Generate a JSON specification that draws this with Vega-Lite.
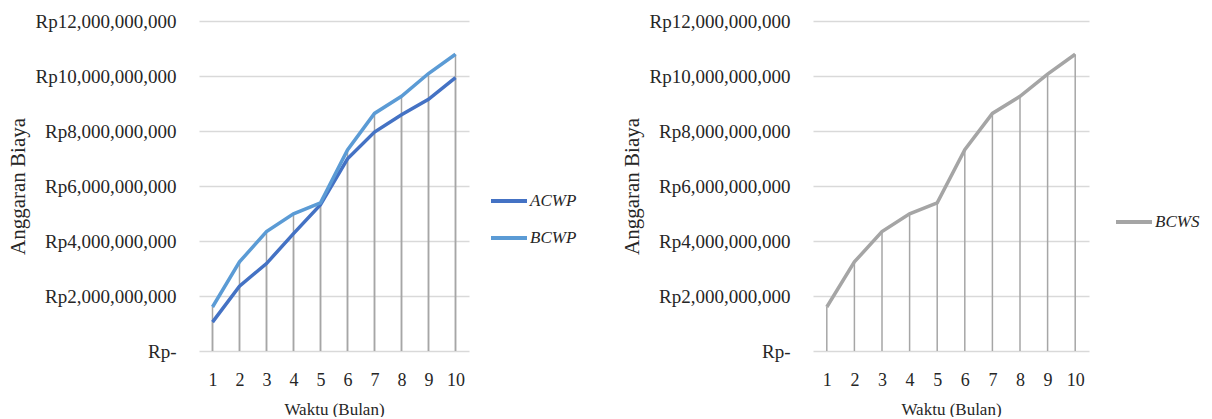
{
  "$schema": "https://vega.github.io/schema/vega-lite/v6.json",
  "padding": {"top": 12, "left": 7, "right": 0, "bottom": 0},
  "background": "white",
  "spacing": 44,
  "config": {
    "view": {"stroke": null},
    "font": "Liberation Serif",
    "axis": {
      "labelFont": "Liberation Serif",
      "titleFont": "Liberation Serif",
      "labelColor": "#262626",
      "titleColor": "#262626",
      "titleFontWeight": "normal",
      "domain": false,
      "ticks": false,
      "tickSize": 0
    },
    "legend": {
      "labelFont": "Liberation Serif",
      "labelFontStyle": "italic",
      "labelFontSize": 17,
      "labelColor": "#262626",
      "symbolType": "stroke",
      "symbolSize": 1296,
      "symbolStrokeWidth": 4,
      "rowPadding": 9,
      "labelOffset": 1
    }
  },
  "datasets": {
    "d": [
      {"bulan": 1, "seri": "ACWP", "nilai": 1050000000},
      {"bulan": 2, "seri": "ACWP", "nilai": 2360000000},
      {"bulan": 3, "seri": "ACWP", "nilai": 3180000000},
      {"bulan": 4, "seri": "ACWP", "nilai": 4270000000},
      {"bulan": 5, "seri": "ACWP", "nilai": 5320000000},
      {"bulan": 6, "seri": "ACWP", "nilai": 6990000000},
      {"bulan": 7, "seri": "ACWP", "nilai": 7960000000},
      {"bulan": 8, "seri": "ACWP", "nilai": 8590000000},
      {"bulan": 9, "seri": "ACWP", "nilai": 9150000000},
      {"bulan": 10, "seri": "ACWP", "nilai": 9940000000},
      {"bulan": 1, "seri": "BCWP", "nilai": 1600000000},
      {"bulan": 2, "seri": "BCWP", "nilai": 3240000000},
      {"bulan": 3, "seri": "BCWP", "nilai": 4340000000},
      {"bulan": 4, "seri": "BCWP", "nilai": 4990000000},
      {"bulan": 5, "seri": "BCWP", "nilai": 5390000000},
      {"bulan": 6, "seri": "BCWP", "nilai": 7310000000},
      {"bulan": 7, "seri": "BCWP", "nilai": 8640000000},
      {"bulan": 8, "seri": "BCWP", "nilai": 9260000000},
      {"bulan": 9, "seri": "BCWP", "nilai": 10090000000},
      {"bulan": 10, "seri": "BCWP", "nilai": 10790000000},
      {"bulan": 1, "seri": "BCWS", "nilai": 1600000000},
      {"bulan": 2, "seri": "BCWS", "nilai": 3240000000},
      {"bulan": 3, "seri": "BCWS", "nilai": 4340000000},
      {"bulan": 4, "seri": "BCWS", "nilai": 4990000000},
      {"bulan": 5, "seri": "BCWS", "nilai": 5390000000},
      {"bulan": 6, "seri": "BCWS", "nilai": 7320000000},
      {"bulan": 7, "seri": "BCWS", "nilai": 8640000000},
      {"bulan": 8, "seri": "BCWS", "nilai": 9260000000},
      {"bulan": 9, "seri": "BCWS", "nilai": 10070000000},
      {"bulan": 10, "seri": "BCWS", "nilai": 10790000000}
    ]
  },
  "resolve": {"scale": {"color": "independent"}, "legend": {"color": "independent"}},
  "hconcat": [
    {
      "width": 270,
      "height": 330,
      "data": {"name": "d"},
      "transform": [{"filter": "datum.seri != 'BCWS'"}],
      "encoding": {
        "x": {
          "field": "bulan", "type": "ordinal",
          "scale": {"type": "point", "padding": 0.5},
          "axis": {"title": "Waktu (Bulan)", "labelAngle": 0, "labelFont": "Liberation Serif", "titleFont": "Liberation Serif", "labelFontSize": 18, "labelPadding": 20, "titleFontSize": 17, "titleFontWeight": "normal", "titlePadding": 12, "grid": false, "domain": false, "ticks": false}
        },
        "y": {
          "field": "nilai", "type": "quantitative",
          "scale": {"domain": [0, 12000000000], "nice": false},
          "axis": {
            "title": "Anggaran Biaya",
            "values": [0, 2000000000, 4000000000, 6000000000, 8000000000, 10000000000, 12000000000],
            "labelExpr": "datum.value == 0 ? 'Rp-' : 'Rp' + format(datum.value, ',')",
            "labelFont": "Liberation Serif", "titleFont": "Liberation Serif",
            "labelFontSize": 19, "labelPadding": 23,
            "titleFontSize": 21, "titleFontWeight": "normal", "titlePadding": 7,
            "grid": true, "gridColor": "#d9d9d9", "gridWidth": 1.3, "domain": false, "ticks": false
          }
        }
      },
      "layer": [
        {
          "mark": {"type": "rule", "color": "#a6a6a6", "strokeWidth": 1.5},
          "encoding": {"y2": {"datum": 0}}
        },
        {
          "mark": {"type": "line", "strokeWidth": 3.5},
          "encoding": {
            "color": {
              "field": "seri", "type": "nominal",
              "scale": {"domain": ["ACWP", "BCWP"], "range": ["#4472c4", "#5b9bd5"]},
              "legend": {"title": null, "orient": "none", "legendX": 290, "legendY": 160}
            }
          }
        }
      ]
    },
    {
      "width": 276,
      "height": 330,
      "data": {"name": "d"},
      "transform": [{"filter": "datum.seri == 'BCWS'"}],
      "encoding": {
        "x": {
          "field": "bulan", "type": "ordinal",
          "scale": {"type": "point", "padding": 0.5},
          "axis": {"title": "Waktu (Bulan)", "labelAngle": 0, "labelFont": "Liberation Serif", "titleFont": "Liberation Serif", "labelFontSize": 18, "labelPadding": 20, "titleFontSize": 17, "titleFontWeight": "normal", "titlePadding": 12, "grid": false, "domain": false, "ticks": false}
        },
        "y": {
          "field": "nilai", "type": "quantitative",
          "scale": {"domain": [0, 12000000000], "nice": false},
          "axis": {
            "title": "Anggaran Biaya",
            "values": [0, 2000000000, 4000000000, 6000000000, 8000000000, 10000000000, 12000000000],
            "labelExpr": "datum.value == 0 ? 'Rp-' : 'Rp' + format(datum.value, ',')",
            "labelFont": "Liberation Serif", "titleFont": "Liberation Serif",
            "labelFontSize": 19, "labelPadding": 23,
            "titleFontSize": 21, "titleFontWeight": "normal", "titlePadding": 7,
            "grid": true, "gridColor": "#d9d9d9", "gridWidth": 1.3, "domain": false, "ticks": false
          }
        }
      },
      "layer": [
        {
          "mark": {"type": "rule", "color": "#a6a6a6", "strokeWidth": 1.5},
          "encoding": {"y2": {"datum": 0}}
        },
        {
          "mark": {"type": "line", "strokeWidth": 3.5},
          "encoding": {
            "color": {
              "field": "seri", "type": "nominal",
              "scale": {"domain": ["BCWS"], "range": ["#a5a5a5"]},
              "legend": {"title": null, "orient": "none", "legendX": 301, "legendY": 181}
            }
          }
        }
      ]
    }
  ]
}
